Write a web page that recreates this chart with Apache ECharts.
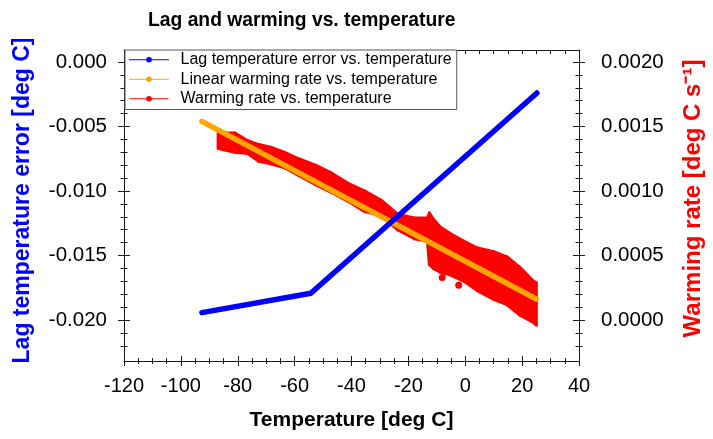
<!DOCTYPE html>
<html><head><meta charset="utf-8">
<script src="https://cdn.jsdelivr.net/npm/echarts@6/dist/echarts.min.js"></script>
<style>html,body{margin:0;padding:0;background:#fff}#c{width:713px;height:439px}</style>
</head><body><div id="c"></div>
<script>
// ---- data ----
const lagT   = [-92.6, -54.3, 25.2];
const lagErr = [-0.01943, -0.01793, -0.0024];

const linT    = [-92.6, 25.0];
const linRate = [0.00154, 0.000163];

// warming-rate scatter cloud, read as upper / lower envelope per temperature
const warmT    = [-86.9, -81.0, -76.5, -72.6, -68.4, -63.5, -58.6, -52.7, -47.1, -41.2, -35.3, -29.7, -23.8, -17.9, -13.3, -12.6, -11.2, -8.8, -5.3, -0.4, 4.1, 10.0, 14.6, 19.1, 24.0, 25.0];
const warmHigh = [0.00145, 0.00145, 0.00139, 0.00136, 0.00134, 0.00130, 0.00125, 0.00120, 0.00114, 0.00106, 0.00100, 0.00093, 0.00082, 0.00079, 0.00079, 0.00083, 0.00078, 0.00072, 0.00067, 0.00061, 0.00056, 0.00053, 0.00049, 0.00041, 0.00030, 0.00029];
const warmLow  = [0.00133, 0.00130, 0.00129, 0.00123, 0.00121, 0.00118, 0.00112, 0.00105, 0.00099, 0.00092, 0.00084, 0.00081, 0.00070, 0.00063, 0.00061, 0.00043, 0.00040, 0.00037, 0.00035, 0.00030, 0.00023, 0.00016, 0.00012, 0.00004, -0.00002, -0.00004];
// isolated points just below the cloud
const warmOutT = [-8.1, -2.3];
const warmOutV = [0.00033, 0.00027];

const xTickStep = 20;
const leftMajor  = [0, -0.005, -0.010, -0.015, -0.020];
const leftMinor  = [-0.001, -0.002, -0.003, -0.004, -0.006, -0.007, -0.008, -0.009, -0.011, -0.012, -0.013, -0.014, -0.016, -0.017, -0.018, -0.019, -0.021, -0.022];
const rightMajor = [0.0020, 0.0015, 0.0010, 0.0005, 0.0000];
const rightMinor = [0.0019, 0.0018, 0.0017, 0.0016, 0.0014, 0.0013, 0.0012, 0.0011, 0.0009, 0.0008, 0.0007, 0.0006, 0.0004, 0.0003, 0.0002, 0.0001, -0.0001, -0.0002];

const names = ['Lag temperature error vs. temperature', 'Linear warming rate vs. temperature', 'Warming rate vs. temperature'];

// ---- layout / style ----
const FF = '"Liberation Sans", Arial, Helvetica, sans-serif';
const AXC = '#1a1a1a';
const X_MIN = -120, X_MAX = 40;
const L_MIN = -0.02318, L_MAX = 0.00093;
const R_MIN = -0.000318, R_MAX = 0.002093;

function yAxisPart(pos, min, max, ticks, inside, len, showLine) {
  return {
    type: 'value', position: pos, min: min, max: max,
    axisLine: { show: showLine, onZero: false, lineStyle: { color: AXC, width: 1 } },
    axisTick: { show: true, inside: inside, length: len, customValues: ticks, lineStyle: { color: AXC, width: 1 } },
    axisLabel: { show: false },
    splitLine: { show: false }
  };
}
function xAxisPart(pos, inside, len, minorLen, showLine) {
  return {
    type: 'value', position: pos, min: X_MIN, max: X_MAX, interval: xTickStep,
    axisLine: { show: showLine, onZero: false, lineStyle: { color: AXC, width: 1 } },
    axisTick: { show: true, inside: inside, length: len, lineStyle: { color: AXC, width: 1 } },
    minorTick: { show: true, splitNumber: 4, length: minorLen, lineStyle: { color: AXC, width: 1 } },
    axisLabel: { show: false },
    splitLine: { show: false }, minorSplitLine: { show: false }
  };
}

const xMain = xAxisPart('bottom', false, 5, 3, true);
xMain.axisLabel = { show: true, fontSize: 20, color: '#000', fontFamily: FF, margin: 15 };
xMain.name = 'Temperature [deg C]';
xMain.nameLocation = 'middle';
xMain.nameGap = 49;
xMain.nameTextStyle = { fontSize: 21, fontWeight: 'bold', color: '#000', fontFamily: FF };

const yLeft = yAxisPart('left', L_MIN, L_MAX, leftMajor, false, 6, true);
yLeft.axisLabel = { show: true, customValues: leftMajor, formatter: v => v.toFixed(3), fontSize: 20.5, color: '#000', fontFamily: FF, margin: 17 };
yLeft.name = 'Lag temperature error [deg C]';
yLeft.nameLocation = 'middle';
yLeft.nameRotate = 90;
yLeft.nameGap = 90;
yLeft.nameTextStyle = { fontSize: 23, fontWeight: 'bold', color: '#0000ff', fontFamily: FF, padding: [0, 0, 0, 10] };

const yRight = yAxisPart('right', R_MIN, R_MAX, rightMajor, false, 6, true);
yRight.axisLabel = { show: true, customValues: rightMajor, formatter: v => v.toFixed(4), fontSize: 20.5, color: '#000', fontFamily: FF, margin: 22 };
yRight.name = 'Warming rate [deg C s\u207B\u00B9]';
yRight.nameLocation = 'middle';
yRight.nameRotate = 90;
yRight.nameGap = 102;
yRight.nameTextStyle = { fontSize: 24, fontWeight: 'bold', color: '#ff0000', fontFamily: FF, padding: [0, 0, 0, 14] };

const option = {
  animation: false,
  backgroundColor: '#fff',
  title: { text: 'Lag and warming vs. temperature', left: 148, top: 11, padding: 0,
    textStyle: { fontSize: 19.3, fontWeight: 'bold', color: '#000', fontFamily: FF } },
  grid: { left: 124, right: 130, top: 50, bottom: 78, containLabel: false },
  legend: {
    orient: 'vertical', left: 125, top: 50, padding: [0, 5, 1, 4], itemGap: 0,
    itemWidth: 39, itemHeight: 7,
    backgroundColor: '#fff', borderColor: '#555', borderWidth: 1, borderRadius: 0,
    textStyle: { fontSize: 16, color: '#000', fontFamily: FF, lineHeight: 19.5, padding: [0, 0, 0, 7] },
    lineStyle: { width: 1 },
    data: names
  },
  xAxis: [
    xMain,
    xAxisPart('bottom', true, 5, 3, false),
    xAxisPart('top', true, 4, 4, true)
  ],
  yAxis: [
    yLeft,
    yAxisPart('left', L_MIN, L_MAX, leftMajor, true, 6, false),
    yAxisPart('left', L_MIN, L_MAX, leftMinor, false, 3.5, false),
    yAxisPart('left', L_MIN, L_MAX, leftMinor, true, 3.5, false),
    yRight,
    yAxisPart('right', R_MIN, R_MAX, rightMajor, true, 6, false),
    yAxisPart('right', R_MIN, R_MAX, rightMinor, false, 3.5, false),
    yAxisPart('right', R_MIN, R_MAX, rightMinor, true, 3.5, false)
  ],
  series: [
    {
      name: 'warm-band', type: 'custom', xAxisIndex: 0, yAxisIndex: 4, z: 1,
      data: warmT.map((t, i) => [t, warmLow[i], warmHigh[i]]),
      encode: { x: 0, y: [1, 2] },
      renderItem: function (params, api) {
        const i = params.dataIndex;
        if (i >= warmT.length - 1) return { type: 'group', children: [] };
        const pts = [
          api.coord([warmT[i], warmHigh[i]]),
          api.coord([warmT[i + 1], warmHigh[i + 1]]),
          api.coord([warmT[i + 1], warmLow[i + 1]]),
          api.coord([warmT[i], warmLow[i]])
        ];
        return { type: 'polygon', shape: { points: pts },
          style: { fill: '#ff0000', stroke: '#ff0000', lineWidth: 3, lineJoin: 'round' } };
      }
    },
    {
      name: 'warm-out', type: 'scatter', xAxisIndex: 0, yAxisIndex: 4, z: 1,
      data: warmOutT.map((t, i) => [t, warmOutV[i]]),
      symbol: 'circle', symbolSize: 7, itemStyle: { color: '#ff0000', opacity: 1 }
    },
    {
      name: names[2], type: 'line', xAxisIndex: 0, yAxisIndex: 4, data: [],
      color: '#ff0000', symbol: 'circle', showSymbol: false
    },
    {
      name: names[1], type: 'line', xAxisIndex: 0, yAxisIndex: 4, z: 3,
      data: linT.map((t, i) => [t, linRate[i]]),
      color: '#ffa500', symbol: 'circle', showSymbol: false,
      lineStyle: { width: 5.5, cap: 'round' }
    },
    {
      name: names[0], type: 'line', xAxisIndex: 0, yAxisIndex: 0, z: 4,
      data: lagT.map((t, i) => [t, lagErr[i]]),
      color: '#0000ff', symbol: 'circle', showSymbol: false,
      lineStyle: { width: 5.5, cap: 'round', join: 'round' }
    }
  ]
};

const chart = echarts.init(document.getElementById('c'), null, { renderer: 'canvas' });
chart.setOption(option);
</script>
</body></html>
